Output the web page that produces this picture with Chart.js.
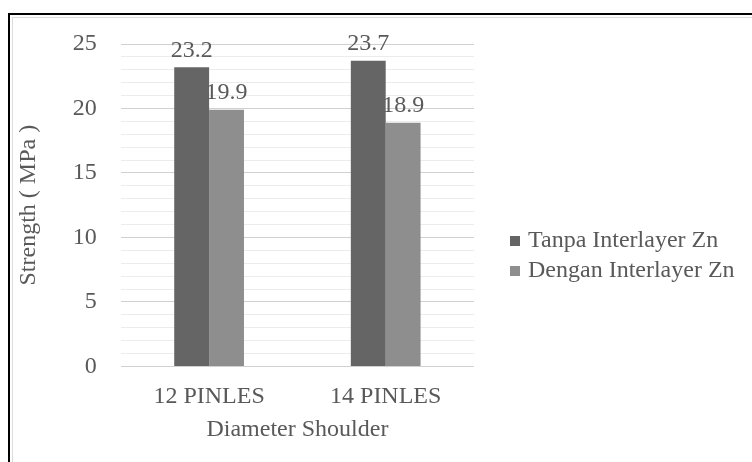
<!DOCTYPE html>
<html>
<head>
<meta charset="utf-8">
<script src="https://cdn.jsdelivr.net/npm/chart.js@4"></script>
<style>
  html, body { margin: 0; padding: 0; background: #fff; overflow: hidden; }
  #frame { position: absolute; left: 8px; top: 13px; width: 800px; height: 500px;
           border-top: 2px solid #000; border-left: 2px solid #000; }
  #inner { position: absolute; left: 12px; top: 17px; width: 800px; height: 500px;
           border-top: 1px solid #dcdcdc; border-left: 1px solid #dcdcdc; }
  #wrap { position: absolute; left: 0; top: 0; width: 752px; height: 462px; }
</style>
</head>
<body>
<div id="frame"></div>
<div id="inner"></div>
<div id="wrap"><canvas id="chart"></canvas></div>
<script>
const categories = ['12 PINLES', '14 PINLES'];
const tanpaValues = [23.2, 23.7];
const denganValues = [19.9, 18.9];
const seriesNames = ['Tanpa Interlayer Zn', 'Dengan Interlayer Zn'];
const yMax = 25;

const textColor = '#595959';
const serif = "'Liberation Serif', 'Times New Roman', serif";
const fontSize = 24;

// draws the value above each bar
const valueLabels = {
  id: 'valueLabels',
  afterDatasetsDraw(chart) {
    const ctx = chart.ctx;
    ctx.save();
    ctx.font = fontSize + 'px ' + serif;
    ctx.fillStyle = textColor;
    ctx.textAlign = 'center';
    ctx.textBaseline = 'middle';
    chart.data.datasets.forEach((ds, i) => {
      chart.getDatasetMeta(i).data.forEach((bar, j) => {
        ctx.fillText(ds.data[j].toFixed(1), bar.x, bar.y - 17);
      });
    });
    ctx.restore();
  }
};

// legend on the right, the built-in one gets squeezed too narrow
const sideLegend = {
  id: 'sideLegend',
  afterDraw(chart) {
    const ctx = chart.ctx;
    const x = chart.chartArea.right + 36;
    ctx.save();
    ctx.font = fontSize + 'px ' + serif;
    ctx.textBaseline = 'middle';
    chart.data.datasets.forEach((ds, i) => {
      const y = 241 + i * 30;
      ctx.fillStyle = ds.backgroundColor;
      ctx.fillRect(x, y - 5, 10, 10);
      ctx.fillStyle = textColor;
      ctx.fillText(ds.label, x + 18, y);
    });
    ctx.restore();
  }
};

new Chart(document.getElementById('chart'), {
  type: 'bar',
  data: {
    labels: categories,
    datasets: [
      {
        label: seriesNames[0],
        data: tanpaValues,
        backgroundColor: '#656565'
      },
      {
        label: seriesNames[1],
        data: denganValues,
        backgroundColor: '#8e8e8e'
      }
    ]
  },
  options: {
    responsive: true,
    maintainAspectRatio: false,
    animation: false,
    layout: { padding: { left: 14, top: 44, right: 278, bottom: 18 } },
    datasets: {
      bar: { categoryPercentage: 0.395, barPercentage: 1 }
    },
    plugins: {
      tooltip: { enabled: false },
      legend: { display: false }
    },
    scales: {
      x: {
        grid: { display: false, drawTicks: true, tickLength: 12 },
        border: { display: false },
        ticks: { color: textColor, font: { family: serif, size: fontSize }, padding: 4 },
        title: {
          display: true,
          text: 'Diameter Shoulder',
          color: textColor,
          font: { family: serif, size: fontSize },
          padding: { top: 0, bottom: 0 }
        }
      },
      y: {
        min: 0,
        max: yMax,
        border: { display: false },
        grid: {
          drawTicks: false,
          color: (c) => (c.tick && c.tick.value % 5 === 0) ? '#d0d0d0' : '#ececec'
        },
        ticks: {
          stepSize: 1,
          autoSkip: false,
          padding: 24,
          color: textColor,
          font: { family: serif, size: fontSize },
          callback: (v) => (v % 5 === 0 ? v : '')
        },
        title: {
          display: true,
          text: 'Strength ( MPa )',
          color: textColor,
          font: { family: serif, size: fontSize },
          padding: { top: 0, bottom: 6 }
        }
      }
    }
  },
  plugins: [valueLabels, sideLegend]
});
</script>
</body>
</html>
